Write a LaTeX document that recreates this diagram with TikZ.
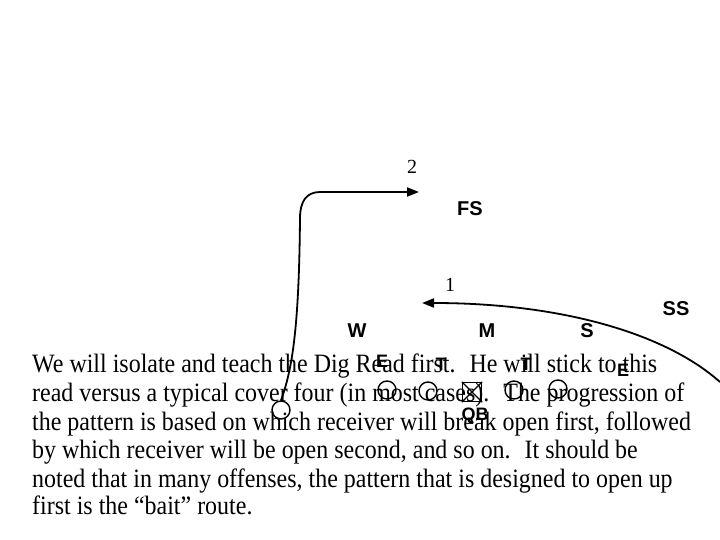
\documentclass[tikz,border=0pt]{standalone}
\usepackage{fontspec}
\setmainfont{Liberation Serif}
\newfontfamily\labelfont{Liberation Sans}
\usetikzlibrary{arrows.meta}
\newsavebox\lineAbox
\begin{document}
\sbox\lineAbox{\fontsize{26.5}{31}\selectfont We will isolate and teach the Dig Read first.~ He will stick to this}
\pgfmathsetmacro\txtsx{625/\the\wd\lineAbox}
\begin{tikzpicture}[x=1pt,y=-1pt,
  txt/.style={anchor=base west,inner sep=0pt,font=\fontsize{26.5}{31}\selectfont},
  lbl/.style={inner sep=0pt,font=\labelfont\bfseries\fontsize{20}{20}\selectfont},
  poslbl/.style={inner sep=0pt,font=\labelfont\bfseries\fontsize{18}{18}\selectfont},
  num/.style={inner sep=0pt,font=\fontsize{20}{20}\selectfont},
  player/.style={circle,draw,line width=1.4pt,minimum size=18pt,inner sep=0pt},
  ctrbox/.style={rectangle,draw,line width=1.4pt,minimum size=19pt,inner sep=0pt},
  route/.style={line width=1.8pt,-{Triangle[length=12pt,width=9pt]}}]
\useasboundingbox (0,0) rectangle (720,540);
% paragraph
\node[txt] (l1) at (32,372) {\scalebox{\txtsx}[1]{We will isolate and teach the Dig Read first.~ He will stick to this}};
\node[txt] (l2) at (32,401) {\scalebox{\txtsx}[1]{read versus a typical cover four (in most cases).~ The progression of}};
\node[txt] (l3) at (32,430) {\scalebox{\txtsx}[1]{the pattern is based on which receiver will break open first, followed}};
\node[txt] (l4) at (32,458) {\scalebox{\txtsx}[1]{by which receiver will be open second, and so on.~ It should be}};
\node[txt] (l5) at (32,487) {\scalebox{\txtsx}[1]{noted that in many offenses, the pattern that is designed to open up}};
\node[txt] (l6) at (32,514) {\scalebox{\txtsx}[1]{first is the \textquotedblleft bait\textquotedblright\ route.}};
% defense labels
\node[lbl] (W) at (357,331) {W};
\node[lbl] (M) at (487,331) {M};
\node[lbl] (S) at (587,331) {S};
\node[lbl] (FS) at (470,209) {FS};
\node[lbl] (SS) at (676,309) {SS};
% offense labels
\node[poslbl] (E1) at (382,361) {E};
\node[poslbl] (T1) at (441,364) {T};
\node[poslbl] (T2) at (526,364) {T};
\node[poslbl] (E2) at (623,370) {E};
\node[poslbl] (QB) at (475,416) {QB};
% offense players
\node[player] (p1) at (387,390) {};
\node[player] (p2) at (428,391) {};
\node[ctrbox] (c) at (472,392) {};
\draw[line width=1.2pt] (c.north west) -- (c.south east) (c.north east) -- (c.south west);
\node[player] (p4) at (514,390) {};
\node[player] (p5) at (558,389) {};
\node[player] (wr) at (281,410) {};
% route numbers
\node[num] (n2) at (412,167) {2};
\node[num] (n1) at (450,285) {1};
% routes
\coordinate (r2end) at (419,192);
\coordinate (r1start) at (720,382);
\coordinate (r1end) at (422,303);
\draw[route] (wr.north) .. controls (292,370) and (299,330) .. (300,218)
  .. controls (300,202) and (306,192) .. (320,192) -- (r2end);
\draw[route] (r1start) .. controls (665,333) and (560,303) .. (r1end);
\end{tikzpicture}
\end{document}
